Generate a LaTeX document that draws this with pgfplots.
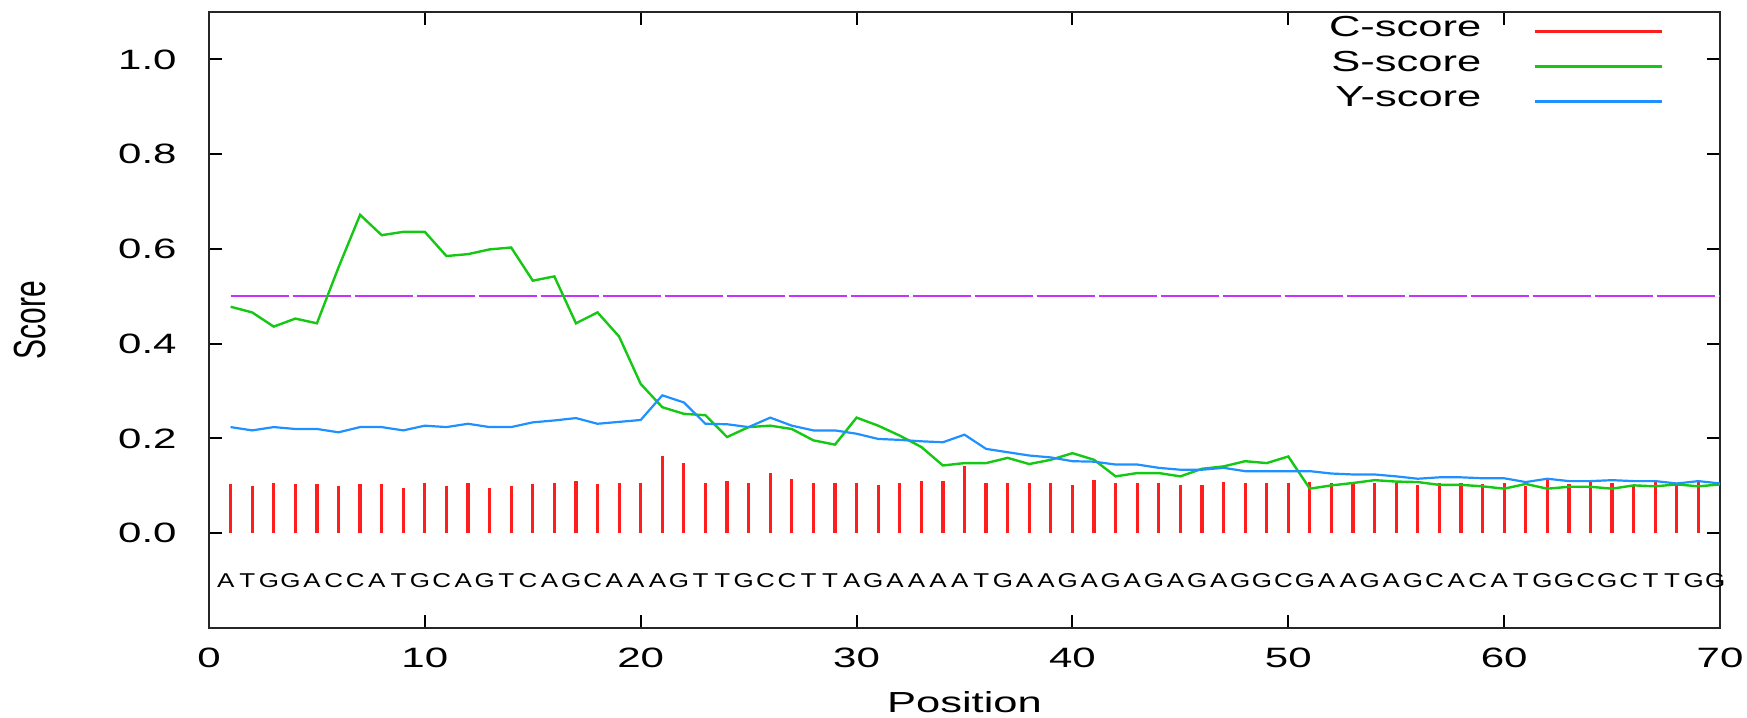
\documentclass[border=0pt]{standalone}
\usepackage{fontspec}
\setmainfont{Liberation Sans}[FakeStretch=1.5]
\newfontfamily\plainsans{Liberation Sans}
\newfontfamily\seqfont{Liberation Sans}[FakeStretch=1.3]
\usepackage{graphicx}
\usepackage{pgfplots}
\usepackage{pgfplotstable}
\pgfplotsset{compat=1.18}
\definecolor{cred}{RGB}{255,30,30}
\definecolor{cgreen}{RGB}{20,200,20}
\definecolor{cblue}{RGB}{30,144,255}
\definecolor{cmag}{RGB}{200,50,255}

\pgfplotstableread{
x c
1 0.104
2 0.099
3 0.106
4 0.103
5 0.103
6 0.099
7 0.103
8 0.103
9 0.095
10 0.106
11 0.099
12 0.106
13 0.095
14 0.099
15 0.103
16 0.106
17 0.110
18 0.103
19 0.106
20 0.106
21 0.164
22 0.149
23 0.106
24 0.110
25 0.106
26 0.128
27 0.114
28 0.106
29 0.106
30 0.106
31 0.102
32 0.106
33 0.110
34 0.110
35 0.142
36 0.106
37 0.106
38 0.106
39 0.106
40 0.102
41 0.113
42 0.106
43 0.106
44 0.106
45 0.102
46 0.102
47 0.109
48 0.106
49 0.106
50 0.106
51 0.109
52 0.106
53 0.106
54 0.106
55 0.106
56 0.102
57 0.106
58 0.106
59 0.103
60 0.107
61 0.099
62 0.114
63 0.103
64 0.108
65 0.107
66 0.101
67 0.108
68 0.101
69 0.108
}\cscore

\pgfplotstableread{
x s
1 0.478
2 0.466
3 0.436
4 0.453
5 0.443
6 0.561
7 0.672
8 0.629
9 0.636
10 0.636
11 0.585
12 0.589
13 0.599
14 0.603
15 0.533
16 0.542
17 0.443
18 0.466
19 0.415
20 0.315
21 0.266
22 0.252
23 0.249
24 0.203
25 0.224
26 0.227
27 0.220
28 0.196
29 0.187
30 0.244
31 0.227
32 0.206
33 0.182
34 0.143
35 0.148
36 0.148
37 0.159
38 0.146
39 0.155
40 0.169
41 0.155
42 0.120
43 0.127
44 0.127
45 0.120
46 0.136
47 0.141
48 0.152
49 0.148
50 0.162
51 0.094
52 0.101
53 0.106
54 0.112
55 0.109
56 0.108
57 0.102
58 0.102
59 0.099
60 0.094
61 0.104
62 0.094
63 0.098
64 0.098
65 0.094
66 0.101
67 0.099
68 0.103
69 0.099
70 0.103
}\sscore

\pgfplotstableread{
x y
1 0.224
2 0.217
3 0.224
4 0.220
5 0.220
6 0.213
7 0.224
8 0.224
9 0.217
10 0.227
11 0.224
12 0.231
13 0.224
14 0.224
15 0.234
16 0.238
17 0.243
18 0.231
19 0.235
20 0.239
21 0.291
22 0.276
23 0.231
24 0.230
25 0.224
26 0.244
27 0.227
28 0.217
29 0.217
30 0.210
31 0.199
32 0.197
33 0.194
34 0.192
35 0.208
36 0.178
37 0.171
38 0.164
39 0.160
40 0.152
41 0.151
42 0.145
43 0.145
44 0.138
45 0.134
46 0.134
47 0.138
48 0.131
49 0.131
50 0.131
51 0.131
52 0.126
53 0.124
54 0.124
55 0.120
56 0.115
57 0.118
58 0.118
59 0.116
60 0.116
61 0.108
62 0.115
63 0.110
64 0.110
65 0.112
66 0.110
67 0.110
68 0.105
69 0.110
70 0.105
}\yscore

\pgfplotstableread{
x y l
1 -0.1 A
2 -0.1 T
3 -0.1 G
4 -0.1 G
5 -0.1 A
6 -0.1 C
7 -0.1 C
8 -0.1 A
9 -0.1 T
10 -0.1 G
11 -0.1 C
12 -0.1 A
13 -0.1 G
14 -0.1 T
15 -0.1 C
16 -0.1 A
17 -0.1 G
18 -0.1 C
19 -0.1 A
20 -0.1 A
21 -0.1 A
22 -0.1 G
23 -0.1 T
24 -0.1 T
25 -0.1 G
26 -0.1 C
27 -0.1 C
28 -0.1 T
29 -0.1 T
30 -0.1 A
31 -0.1 G
32 -0.1 A
33 -0.1 A
34 -0.1 A
35 -0.1 A
36 -0.1 T
37 -0.1 G
38 -0.1 A
39 -0.1 A
40 -0.1 G
41 -0.1 A
42 -0.1 G
43 -0.1 A
44 -0.1 G
45 -0.1 A
46 -0.1 G
47 -0.1 A
48 -0.1 G
49 -0.1 G
50 -0.1 C
51 -0.1 G
52 -0.1 A
53 -0.1 A
54 -0.1 G
55 -0.1 A
56 -0.1 G
57 -0.1 C
58 -0.1 A
59 -0.1 C
60 -0.1 A
61 -0.1 T
62 -0.1 G
63 -0.1 G
64 -0.1 C
65 -0.1 G
66 -0.1 C
67 -0.1 T
68 -0.1 T
69 -0.1 G
70 -0.1 G
}\seq

\pgfplotstableread{
x t
1 0.5
70 0.5
}\thr

\begin{document}
\begin{tikzpicture}
\useasboundingbox (-104.5pt,-45pt) rectangle (769pt,314pt);
\begin{axis}[
  scale only axis,
  width=755.5pt, height=308pt,
  xmin=0, xmax=70, ymin=-0.2, ymax=1.1,
  clip=false,
  xtick={0,10,...,70},
  ytick={0,0.2,...,1.0},
  minor tick num=0,
  tick align=inside,
  major tick length=6.5pt,
  major tick style={line width=1pt, black},
  axis line style={line width=1.3pt, black!85},
  /pgf/number format/assume math mode=true,
  tick label style={font=\fontsize{14}{16}\selectfont},
  yticklabel style={/pgf/number format/fixed, /pgf/number format/fixed zerofill, /pgf/number format/precision=1, inner sep=0pt, xshift=-16pt},
  xticklabel style={inner sep=0pt, anchor=north, yshift=-10pt},
  xlabel={Position},
  xlabel style={at={(axis description cs:0.5,-0.103)}, anchor=north, inner sep=0pt, font=\fontsize{14.5}{16}\selectfont},
  ylabel={\scalebox{1}[1.5]{\plainsans Score}},
  ylabel style={at={(axis description cs:-0.1185,0.5)}, anchor=center, inner sep=0pt, font=\fontsize{15}{16}\selectfont},
  legend plot pos=right,
  legend cell align=right,
  legend image code/.code={\draw[#1] (0pt,-1.9pt) -- (63.5pt,-1.9pt);},
  legend style={draw=none, fill=none, at={(0.9629,1.0037)}, anchor=north east,
     inner sep=0pt, column sep=26pt, row sep=0pt,
     nodes={inner sep=0pt, text height=13.25pt, text depth=4.25pt},
     font=\fontsize{14.5}{16}\selectfont},
]
\addplot[forget plot, color=cmag, line width=1.1pt, dash pattern=on 29pt off 2pt] table[x=x, y=t] {\thr};
\addplot[ycomb, color=cred, line width=1.6pt, mark=none] table[x=x, y=c] {\cscore};
\addlegendentry{C-score}
\addplot[color=cgreen, line width=1.2pt, mark=none] table[x=x, y=s] {\sscore};
\addlegendentry{S-score}
\addplot[color=cblue, line width=1.1pt, mark=none] table[x=x, y=y] {\yscore};
\addlegendentry{Y-score}
\addplot[forget plot, draw=none, mark=none, nodes near coords, point meta=explicit symbolic,
  nodes near coords align={center},
  every node near coord/.append style={font=\seqfont\fontsize{10}{11}\selectfont, inner sep=0pt, xshift=-2.4pt, black}]
  table[x=x, y=y, meta=l] {\seq};
\end{axis}
\end{tikzpicture}
\end{document}
